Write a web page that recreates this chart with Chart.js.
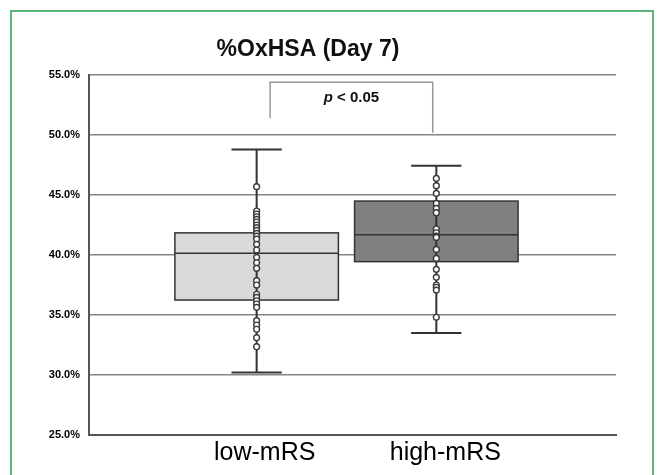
<!DOCTYPE html>
<html>
<head>
<meta charset="utf-8">
<script src="https://cdn.jsdelivr.net/npm/chart.js@4.4.0/dist/chart.umd.min.js"></script>
<style>
  body { margin: 0; background: #fff; }
  #wrap { position: relative; width: 657px; height: 475px; overflow: hidden; }
  #frame { position: absolute; left: 10px; top: 10px; width: 640px; height: 480px; border: 2px solid #5bb57a; }
  canvas { position: absolute; left: 0; top: 0; }
</style>
</head>
<body>
<div id="wrap">
  <div id="frame"></div>
  <canvas id="grafico" width="657" height="475"></canvas>
</div>
<script>
// grupos
var grupos = ["low-mRS", "high-mRS"];
var posicoes = [1, 2];

// resumo do boxplot (%)
var minimos = [30.2, 33.5];
var q1s = [36.25, 39.45];
var medianas = [40.15, 41.7];
var q3s = [41.85, 44.5];
var maximos = [48.8, 47.45];
var medias = [39.15, 41.65];

// pontos individuais
var pontosLow = [45.7, 43.67, 43.42, 43.19, 42.97, 42.75, 42.5, 42.28, 42.06, 41.81, 41.58, 41.33,
  40.89, 40.42, 39.81, 39.36, 38.89, 37.86, 37.5, 36.73, 36.47, 36.19, 35.92, 35.64,
  34.53, 34.17, 33.81, 33.11, 32.36];
var pontosHigh = [46.39, 45.78, 45.14, 44.31, 43.89, 43.53, 42.17, 41.86, 41.58, 41.47, 40.47,
  39.72, 38.81, 38.14, 37.5, 37.31, 37.08, 34.81];

// eixo y
var yTicks = [25, 30, 35, 40, 45, 50, 55];

// colchete de significancia
var colcheteX = [1.075, 1.98];
var colcheteY = [51.4, 54.4, 54.4, 50.2];
var textoP = "p < 0.05";

var coresCaixa = ["#d9d9d9", "#808080"];

function pts(x, arr) {
  return arr.map(function (v) { return { x: x, y: v }; });
}

// desenha caixas e bigodes usando as escalas do chart
var boxPlugin = {
  id: "boxplot",
  beforeDatasetsDraw: function (chart) {
    var ctx = chart.ctx;
    var xs = chart.scales.x, ys = chart.scales.y;
    var meia = 0.455; // meia largura da caixa em unidades de x
    var capa = 0.14;
    ctx.save();
    for (var i = 0; i < posicoes.length; i++) {
      var xc = xs.getPixelForValue(posicoes[i]);
      var xl = xs.getPixelForValue(posicoes[i] - meia);
      var xr = xs.getPixelForValue(posicoes[i] + meia);
      var yq1 = ys.getPixelForValue(q1s[i]);
      var yq3 = ys.getPixelForValue(q3s[i]);
      ctx.fillStyle = coresCaixa[i];
      ctx.fillRect(xl, yq3, xr - xl, yq1 - yq3);
      ctx.strokeStyle = "#333";
      ctx.lineWidth = 1.5;
      ctx.strokeRect(xl, yq3, xr - xl, yq1 - yq3);
      // mediana
      var ym = ys.getPixelForValue(medianas[i]);
      ctx.beginPath();
      ctx.moveTo(xl, ym); ctx.lineTo(xr, ym);
      ctx.stroke();
      // bigode
      var ymin = ys.getPixelForValue(minimos[i]);
      var ymax = ys.getPixelForValue(maximos[i]);
      var cl = xs.getPixelForValue(posicoes[i] - capa);
      var cr = xs.getPixelForValue(posicoes[i] + capa);
      ctx.lineWidth = 2;
      ctx.beginPath();
      ctx.moveTo(xc, ymin); ctx.lineTo(xc, ymax);
      ctx.moveTo(cl, ymin); ctx.lineTo(cr, ymin);
      ctx.moveTo(cl, ymax); ctx.lineTo(cr, ymax);
      ctx.stroke();
    }
    // colchete p
    ctx.strokeStyle = "#999";
    ctx.lineWidth = 1.5;
    ctx.beginPath();
    ctx.moveTo(xs.getPixelForValue(colcheteX[0]), ys.getPixelForValue(colcheteY[0]));
    ctx.lineTo(xs.getPixelForValue(colcheteX[0]), ys.getPixelForValue(colcheteY[1]));
    ctx.lineTo(xs.getPixelForValue(colcheteX[1]), ys.getPixelForValue(colcheteY[2]));
    ctx.lineTo(xs.getPixelForValue(colcheteX[1]), ys.getPixelForValue(colcheteY[3]));
    ctx.stroke();
    var tx = xs.getPixelForValue((colcheteX[0] + colcheteX[1]) / 2);
    var ty = ys.getPixelForValue(53.1);
    ctx.fillStyle = "#111";
    ctx.textBaseline = "middle";
    ctx.textAlign = "left";
    ctx.font = "italic bold 15px 'Liberation Sans', Arial, sans-serif";
    var wp = ctx.measureText("p").width;
    ctx.font = "bold 15px 'Liberation Sans', Arial, sans-serif";
    var resto = textoP.slice(1);
    var wr = ctx.measureText(resto).width;
    var x0 = tx - (wp + wr) / 2;
    ctx.font = "italic bold 15px 'Liberation Sans', Arial, sans-serif";
    ctx.fillText("p", x0, ty);
    ctx.font = "bold 15px 'Liberation Sans', Arial, sans-serif";
    ctx.fillText(resto, x0 + wp, ty);
    ctx.restore();
  }
};

const config = {
  type: "scatter",
  data: {
    datasets: [
      {
        label: grupos[0],
        data: pts(posicoes[0], pontosLow),
        pointRadius: 2.9,
        pointBackgroundColor: "#fff",
        pointBorderColor: "#3a3a3a",
        pointBorderWidth: 1.4
      },
      {
        label: grupos[1],
        data: pts(posicoes[1], pontosHigh),
        pointRadius: 2.9,
        pointBackgroundColor: "#fff",
        pointBorderColor: "#3a3a3a",
        pointBorderWidth: 1.4
      },
      {
        label: "media",
        data: [{ x: posicoes[0], y: medias[0] }, { x: posicoes[1], y: medias[1] }],
        pointStyle: "crossRot",
        pointRadius: 4.5,
        pointBorderColor: "#333",
        pointBorderWidth: 1.5
      }
    ]
  },
  options: {
    responsive: false,
    animation: false,
    layout: { padding: { left: 0, right: 41, top: 0, bottom: 0 } },
    plugins: {
      legend: { display: false },
      tooltip: { enabled: false },
      title: {
        display: true,
        text: "%OxHSA (Day 7)",
        color: "#111",
        font: { family: "'Liberation Sans', Arial, sans-serif", size: 23, weight: "bold" },
        padding: { top: 35.5, bottom: 12 }
      }
    },
    scales: {
      x: {
        type: "linear",
        min: 0.067,
        max: 3.0,
        afterBuildTicks: function (s) {
          s.ticks = [{ value: 1.045 }, { value: 2.05 }];
        },
        afterFit: function (s) { s.height = 40; },
        grid: { display: false, drawTicks: false },
        border: { display: true, color: "#555", width: 2 },
        ticks: {
          padding: 3,
          color: "#000",
          font: { family: "'Liberation Sans', Arial, sans-serif", size: 25 },
          callback: function (v, i) { return grupos[i]; }
        }
      },
      y: {
        min: 25,
        max: 55,
        afterBuildTicks: function (s) {
          s.ticks = yTicks.map(function (v) { return { value: v }; });
        },
        afterFit: function (s) { s.width = 89; },
        grid: { color: "#858585", lineWidth: 1.5, drawTicks: false },
        border: { display: true, color: "#555", width: 2 },
        ticks: {
          padding: 9,
          color: "#000",
          font: { family: "'Liberation Sans', Arial, sans-serif", size: 11, weight: "bold" },
          callback: function (v) { return v.toFixed(1) + "%"; }
        }
      }
    }
  },
  plugins: [boxPlugin]
};

var meuGrafico = new Chart(document.getElementById("grafico"), config);
</script>
</body>
</html>
